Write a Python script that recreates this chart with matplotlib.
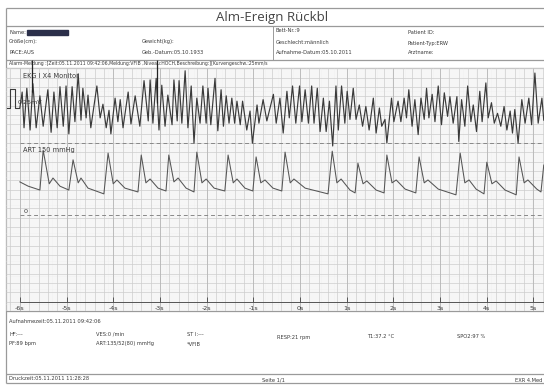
import numpy as np
import matplotlib.pyplot as plt

# EKG I (VFIB) turning points: time in s, amplitude in mV
ecg_t = [-6.00, -5.95, -5.91, -5.85, -5.78, -5.72, -5.65, -5.57, -5.50, -5.40,
         -5.33, -5.27, -5.20, -5.14, -5.07, -5.01, -4.95, -4.88, -4.82, -4.75,
         -4.69, -4.65, -4.58, -4.54, -4.48, -4.35, -4.28, -4.22, -4.15, -4.09,
         -4.05, -3.96, -3.90, -3.85, -3.79, -3.68, -3.62, -3.53,
         -3.43, -3.34, -3.25, -3.21, -3.15, -3.08, -3.02, -2.96, -2.89, -2.83,
         -2.74, -2.70, -2.63, -2.59, -2.53, -2.46, -2.40, -2.33, -2.27, -2.21,
         -2.14, -2.08, -2.01, -1.97, -1.91, -1.82, -1.76, -1.69, -1.64, -1.58,
         -1.52, -1.46, -1.40, -1.35, -1.28, -1.23, -1.14, -1.07, -1.02, -0.92,
         -0.88, -0.79, -0.71,
         -0.57, -0.51, -0.43, -0.36, -0.28, -0.23, -0.16, -0.09, -0.01, 0.04,
         0.11, 0.18, 0.25, 0.30, 0.37, 0.43, 0.50, 0.56, 0.63, 0.70,
         0.77, 0.82, 0.89, 0.96, 1.01, 1.07, 1.14, 1.20, 1.27, 1.34,
         1.41, 1.48, 1.57, 1.63, 1.70, 1.75, 1.82, 1.86, 1.96, 2.01,
         2.10, 2.16,
         2.23, 2.28, 2.33, 2.40, 2.46, 2.53, 2.59, 2.66, 2.71, 2.76,
         2.83, 2.89, 2.96, 3.03, 3.09, 3.16, 3.21, 3.28, 3.36, 3.40,
         3.46, 3.53, 3.59, 3.66, 3.71, 3.78, 3.85, 3.90, 3.98, 4.03,
         4.10, 4.16, 4.23, 4.30, 4.37, 4.43, 4.50, 4.55, 4.60, 4.67,
         4.75, 4.82, 4.90, 4.96, 5.03, 5.10, 5.18, 5.22]
ecg_mv = [0.00, 0.21, -0.26, 0.26, -0.29, 0.32, -0.26, 0.16, -0.24, 0.24,
          -0.32, 0.21, -0.26, 0.28, -0.24, 0.29, -0.34, 0.28, -0.18, 0.45,
          -0.16, 0.26, -0.13, 0.17, -0.26, 0.29, -0.13, 0.05, -0.26, -0.03,
          -0.34, 0.13, -0.18, 0.11, -0.26, 0.21, -0.21, 0.16,
          -0.24, 0.36, -0.17, 0.37, -0.20, 0.39, -0.29, 0.30, -0.24, 0.17,
          -0.22, 0.37, -0.17, 0.36, -0.20, 0.49, -0.26, 0.29, -0.46, 0.13,
          -0.20, 0.29, -0.20, 0.26, -0.22, 0.39, -0.30, 0.24, -0.24, 0.16,
          -0.20, 0.13, -0.20, 0.09, -0.22, 0.09, -0.29, -0.04, -0.46, 0.04,
          -0.20, 0.11, -0.17,
          0.18, -0.20, 0.13, -0.33, 0.22, -0.13, 0.29, -0.20, 0.29, -0.18,
          0.24, -0.20, 0.29, -0.20, 0.26, -0.31, 0.13, -0.31, 0.09, -0.50,
          0.29, -0.29, 0.29, -0.20, 0.22, -0.15, 0.26, -0.15, 0.04, -0.24,
          0.02, -0.29, 0.13, -0.33, 0.00, -0.24, -0.15, -0.46, 0.13, -0.18,
          0.09, -0.18,
          0.13, -0.13, 0.24, -0.24, 0.11, -0.35, 0.13, -0.15, 0.26, -0.13,
          0.18, -0.18, 0.29, -0.22, 0.20, -0.11, 0.15, -0.20, 0.15, -0.44,
          0.11, -0.24, 0.29, -0.18, 0.04, -0.31, 0.22, -0.18, 0.33, -0.13,
          0.07, -0.20, -0.07, -0.24, 0.02, -0.29, -0.04, -0.33, -0.02, -0.46,
          0.11, -0.20, 0.13, -0.22, 0.46, -0.20, 0.13, -0.16]

# ART curve: time in s, pressure in mmHg
art_t = [-6.00, -5.82, -5.57, -5.50, -5.37, -5.29, -5.14, -4.95, -4.86, -4.75,
         -4.69, -4.54, -4.20, -4.11, -4.00, -3.92, -3.75, -3.47, -3.40, -3.30,
         -3.21, -3.04, -2.87, -2.81, -2.70, -2.61, -2.44, -2.27, -2.21, -2.10,
         -2.01, -1.84, -1.61, -1.54, -1.43, -1.35, -1.18, -1.01, -0.94, -0.84,
         -0.75, -0.58, -0.39, -0.32, -0.21, -0.13, 0.11, 0.60, 0.69, 0.79,
         0.88, 1.07, 1.18, 1.24, 1.35, 1.43, 1.63, 1.80, 1.86, 1.97,
         2.06, 2.25, 2.48, 2.55, 2.66, 2.74, 2.96, 3.34, 3.43, 3.53,
         3.62, 3.77, 3.94, 4.00, 4.11, 4.20, 4.39, 4.63, 4.69, 4.80,
         4.88, 5.07, 5.16, 5.22]
art_mmhg = [69, 60, 52, 135, 65, 77, 60, 52, 115, 67,
            77, 56, 44, 129, 65, 73, 56, 48, 125, 67,
            75, 56, 50, 125, 69, 77, 56, 48, 131, 67,
            75, 56, 50, 125, 67, 75, 56, 50, 121, 67,
            73, 56, 50, 131, 67, 75, 56, 44, 133, 67,
            75, 52, 46, 108, 65, 71, 52, 46, 125, 67,
            73, 54, 46, 121, 67, 73, 54, 42, 129, 67,
            73, 54, 44, 110, 65, 71, 52, 42, 121, 67,
            73, 54, 48, 104]

cal_t = [-6.27, -6.21, -6.21, -6.10, -6.10, -6.02]
cal_mv = [0, 0, 0.25, 0.25, 0, 0]
tick_sec = [-6, -5, -4, -3, -2, -1, 0, 1, 2, 3, 4, 5]
marker_t = [-5.74, -3.06]

ecg_base, ecg_gain = 108, 76      # px on the sheet, px per mV
art_zero, art_gain = 215, 0.48    # px on the sheet, px per mmHg
ink = '#3a3a3a'
plt.rcParams['font.family'] = ['DejaVu Sans']

fig = plt.figure(figsize=(5.44, 3.85), dpi=100)

# waveform area on ECG paper
ax = fig.add_axes([6/544, 1 - 311/385, 538/544, 243/385])
ax.set_xlim(-6.296, 5.225)
ax.set_ylim(311, 68)
ax.axis('off')
ax.vlines(np.arange(-6.28, 5.23, 0.04), 68, 311, color='#ececec', lw=0.35, zorder=0)
ax.hlines(np.arange(311, 68, -1.868), -6.296, 5.225, color='#ececec', lw=0.35, zorder=0)
ax.vlines(np.arange(-6.2, 5.23, 0.2), 68, 311, color='#cdcdcd', lw=0.5, zorder=1)
ax.hlines(np.arange(311, 68, -9.34), -6.296, 5.225, color='#cdcdcd', lw=0.5, zorder=1)
ax.vlines(tick_sec, 68, 311, color='#b8b8b8', lw=0.6, zorder=1)

ax.plot(cal_t, ecg_base - ecg_gain * np.array(cal_mv), color=ink, lw=0.8, zorder=3)
ax.plot(ecg_t, ecg_base - ecg_gain * np.array(ecg_mv), color=ink, lw=0.85, zorder=3)
ax.plot(art_t, art_zero - art_gain * np.array(art_mmhg), color='#555555', lw=0.75, zorder=3)
ax.hlines([art_zero - art_gain * 150, art_zero], -6.0, 5.225, color='#888888',
          lw=0.7, linestyles=(0, (4, 3)), zorder=2)
ax.vlines(marker_t, 60, [92, 103], color='#222222', lw=0.9, zorder=4, clip_on=False)

# time axis
ax.hlines(302, -6.0, 5.225, color='#555555', lw=0.7, zorder=3)
ax.vlines(tick_sec, 297, 302, color='#555555', lw=0.7, zorder=3)
for s in tick_sec:
    ax.text(s, 308.5, f'{s}s', ha='center', va='center', fontsize=4.6, color=ink)

ax.text(-5.94, 76, 'EKG I X4 Monitor', fontsize=4.8, color=ink, va='center')
ax.text(-6.04, 103, '0.25mV', fontsize=4.6, color=ink, va='center')
ax.text(-5.94, 150, 'ART 150 mmHg', fontsize=4.8, color=ink, va='center')
ax.text(-5.92, 211.5, '0', fontsize=4.6, color=ink, va='center')

# page: header, footer and frame in sheet pixels
pg = fig.add_axes([0, 0, 1, 1], zorder=-1)
pg.set_xlim(0, 544)
pg.set_ylim(385, 0)
pg.axis('off')
frame = '#9a9a9a'
pg.hlines([8, 26, 60, 68, 311, 374, 383], 6, 544, color=frame, lw=0.9)
pg.vlines(6, 8, 383, color=frame, lw=0.9)
pg.vlines(273, 26, 60, color=frame, lw=0.7)

pg.text(272, 17.5, 'Alm-Ereign Rückbl', fontsize=9.5, family='Open Sans',
        ha='center', va='center', color='#444444')

small = dict(fontsize=3.7, color=ink, va='center')
pg.text(9, 32, 'Name:', **small)
pg.add_patch(plt.Rectangle((27, 29.5), 41, 5, color='#2b2f4a', zorder=0))
pg.text(9, 42, 'Größe(cm):', **small)
pg.text(9, 52, 'PACE:AUS', **small)
pg.text(142, 42, 'Gewicht(kg):', **small)
pg.text(142, 52, 'Geb.-Datum:05.10.1933', **small)
pg.text(276, 31, 'Bett-Nr.:9', **small)
pg.text(276, 42, 'Geschlecht:männlich', **small)
pg.text(276, 52, 'Aufnahme-Datum:05.10.2011', **small)
pg.text(408, 32, 'Patient ID:', **small)
pg.text(408, 43, 'Patient-Typ:ERW', **small)
pg.text(408, 53, 'Arztname:', **small)
pg.text(9, 64, 'Alarm-Meldung :[Zeit:05.11.2011 09:42:06,Meldung:VFIB ,Niveau:HOCH,'
        'Beschreibung:][Kurvengeschw.:25mm/s', fontsize=3.3, color=ink, va='center')

pg.text(9, 321.5, 'Aufnahmezeit:05.11.2011 09:42:06', **small)
pg.text(9, 334, 'HF:---', **small)
pg.text(9, 343, 'PF:89 bpm', **small)
pg.text(96, 334, 'VES:0 /min', **small)
pg.text(96, 343, 'ART:135/52(80) mmHg', **small)
pg.text(187, 335, 'ST I:---', **small)
pg.text(187, 344, '*VFIB', **small)
pg.text(277, 337, 'RESP:21 rpm', **small)
pg.text(367, 337, 'T1:37.2 °C', **small)
pg.text(457, 337, 'SPO2:97 %', **small)
pg.text(9, 379, 'Druckzeit:05.11.2011 11:28:28', **small)
pg.text(262, 380, 'Seite 1/1', **small)
pg.text(515, 381, 'EXR 4.Med', **small)

fig.savefig('out.png', dpi=100)
